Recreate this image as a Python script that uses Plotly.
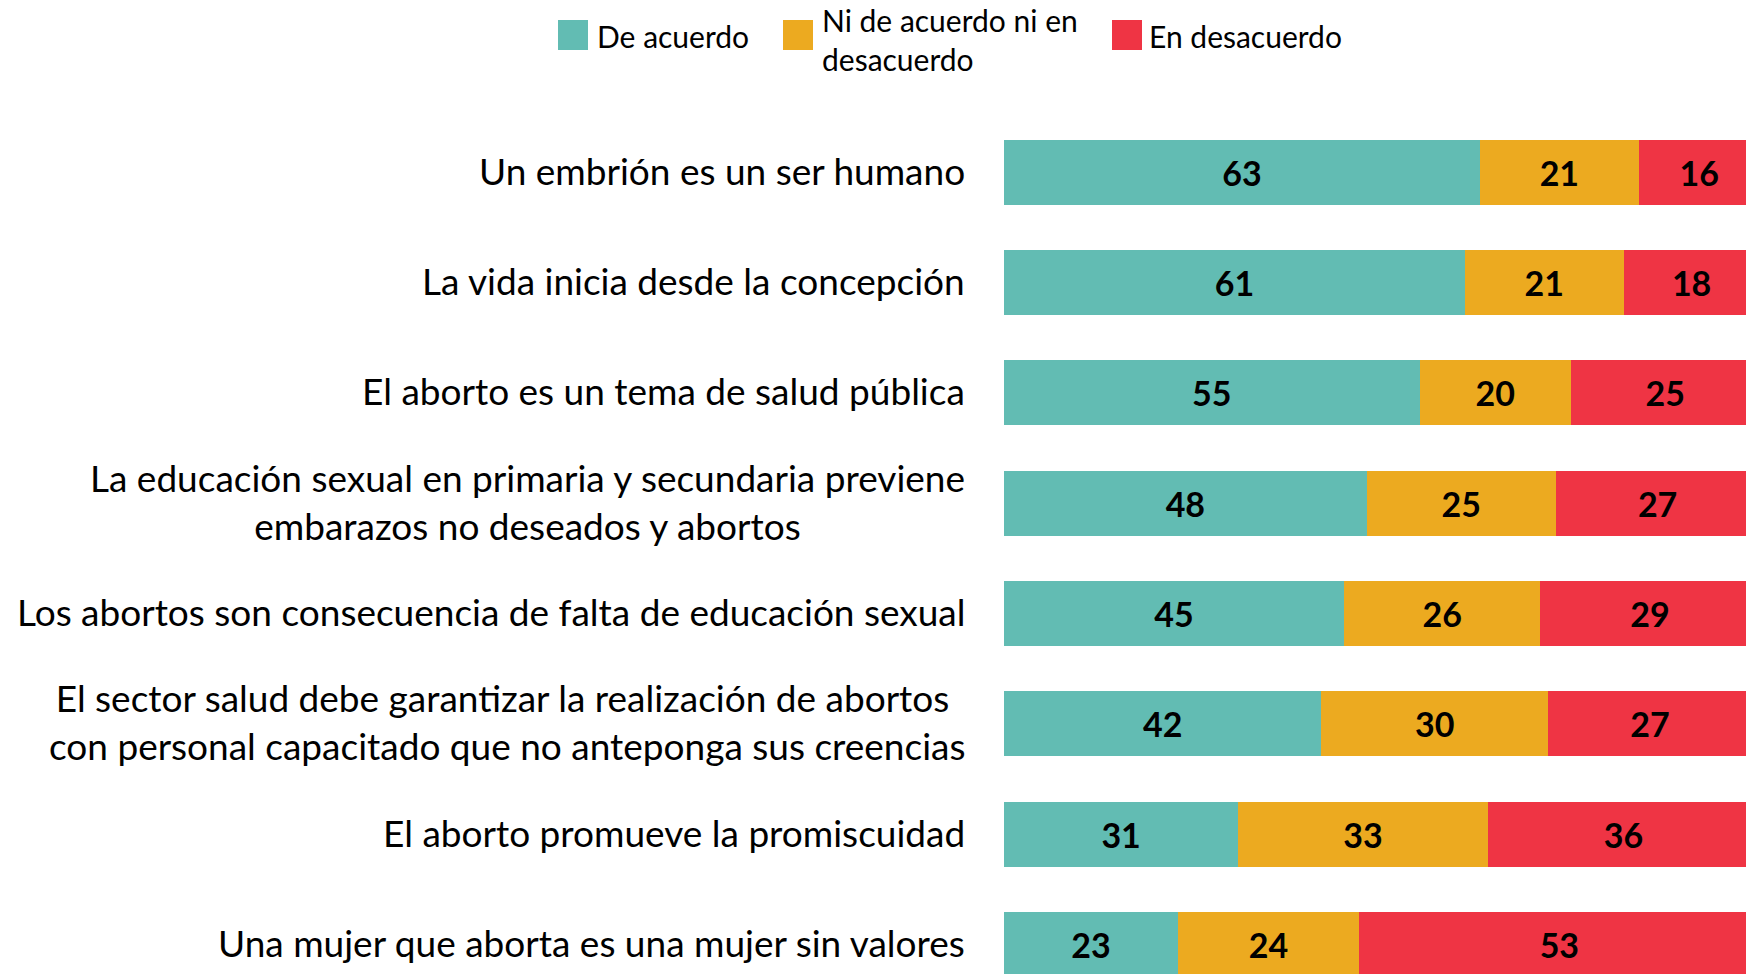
import plotly.graph_objects as go

categories = [
    "Un embrión es un ser humano",
    "La vida inicia desde la concepción",
    "El aborto es un tema de salud pública",
    "La educación sexual en primaria y secundaria previene<br>embarazos no deseados y abortos",
    "Los abortos son consecuencia de falta de educación sexual",
    "El sector salud debe garantizar la realización de abortos <br>con personal capacitado que no anteponga sus creencias",
    "El aborto promueve la promiscuidad",
    "Una mujer que aborta es una mujer sin valores",
]
de_acuerdo = [63, 61, 55, 48, 45, 42, 31, 23]
ni_ni = [21, 21, 20, 25, 26, 30, 33, 24]
desacuerdo = [16, 18, 25, 27, 29, 27, 36, 53]

series_names = ["De acuerdo", "Ni de acuerdo ni en<br>desacuerdo", "En desacuerdo"]
series_values = [de_acuerdo, ni_ni, desacuerdo]
colors = ["#62BCB3", "#ECAA20", "#EF3444"]

W, H = 1746, 974
ML, MR, MT, MB = 1004, 0, 117, 0
PW, PH = W - ML - MR, H - MT - MB

def px_x(px):
    return (px - ML) / PW

def px_y(py):
    return 1 - (py - MT) / PH

FONT = "Lato, Carlito, Calibri, sans-serif"

fig = go.Figure()
for name, vals, col in zip(series_names, series_values, colors):
    fig.add_trace(go.Bar(
        y=categories, x=vals, name=name, orientation="h",
        marker=dict(color=col, line=dict(width=0)),
        text=[str(v) for v in vals], textposition="inside",
        insidetextanchor="middle",
        textfont=dict(family=FONT, size=34, color="#000000", weight="bold"),
        showlegend=False, hoverinfo="skip",
    ))

annotations = []
for c in categories:
    annotations.append(dict(
        x=0, xref="paper", y=c, yref="y", text=c, showarrow=False,
        xanchor="right", yanchor="middle", align="center", xshift=-37,
        yshift=2,
        font=dict(family=FONT, size=37, color="#000000"),
    ))

# manual legend
leg_sq_x = [558, 783, 1112]
leg_txt_x = [596, 821, 1148]
leg_txt_y = [36, 39, 36]
shapes = []
for sx, tx, ty, name, col in zip(leg_sq_x, leg_txt_x, leg_txt_y, series_names, colors):
    shapes.append(dict(type="rect", xref="paper", yref="paper",
                       x0=px_x(sx), x1=px_x(sx + 30), y0=px_y(50), y1=px_y(20),
                       fillcolor=col, line=dict(width=0)))
    annotations.append(dict(
        x=px_x(tx), xref="paper", y=px_y(ty), yref="paper", text=name,
        showarrow=False, xanchor="left", yanchor="middle", align="left",
        borderpad=0,
        font=dict(family=FONT, size=30, color="#000000"),
    ))

fig.update_layout(
    width=W, height=H, barmode="stack", bargap=0.41,
    margin=dict(l=ML, r=MR, t=MT, b=MB, pad=0),
    plot_bgcolor="white", paper_bgcolor="white",
    xaxis=dict(range=[0, 98.2], visible=False, fixedrange=True),
    yaxis=dict(type="category", categoryorder="array", categoryarray=categories,
               range=[7.267, -0.5], showticklabels=False, showgrid=False,
               zeroline=False, showline=False, ticks=""),
    annotations=annotations, shapes=shapes,
    uniformtext=dict(mode=False),
)
fig.write_html("out.html")
